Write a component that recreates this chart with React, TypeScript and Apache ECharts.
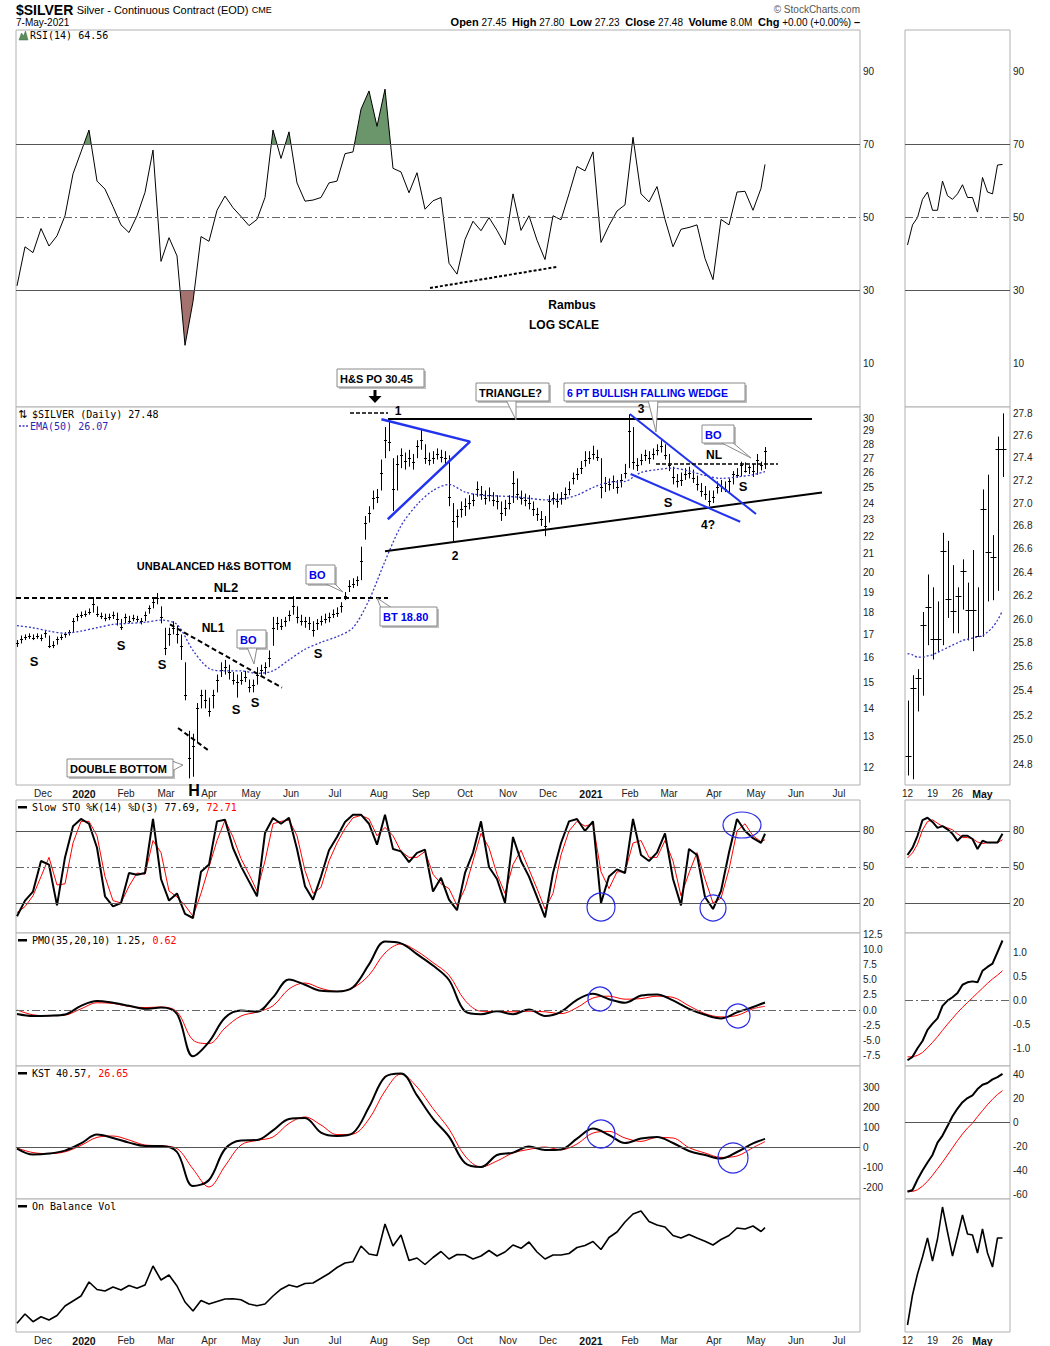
import React, { useEffect, useRef } from 'react';
import * as echarts from 'echarts';

const FONT = '"Liberation Sans", Arial, Helvetica, sans-serif';
const NARROW = '"Liberation Sans Narrow", "Liberation Sans", Arial, sans-serif';
const MONO = '"DejaVu Sans Mono", "Liberation Mono", monospace';

// ---------- tick labels ----------
const monthLabels = ['Dec', '2020', 'Feb', 'Mar', 'Apr', 'May', 'Jun', 'Jul', 'Aug', 'Sep', 'Oct', 'Nov', 'Dec', '2021', 'Feb', 'Mar', 'Apr', 'May', 'Jun', 'Jul'];
const monthPos = [6.5, 16.75, 27.25, 37.25, 48, 58.5, 68.5, 79.5, 90.5, 101, 112, 122.75, 132.75, 143.5, 153.25, 163, 174.25, 184.75, 194.75, 205.5];
const miniLabels = ['12', '19', '26', 'May'];
const miniPos = [0, 5, 10, 15];
const rsiTicks = [10, 30, 50, 70, 90];
const priceTicks = [12, 13, 14, 15, 16, 17, 18, 19, 20, 21, 22, 23, 24, 25, 26, 27, 28, 29, 30];
const miniPriceTicks = [24.8, 25.0, 25.2, 25.4, 25.6, 25.8, 26.0, 26.2, 26.4, 26.6, 26.8, 27.0, 27.2, 27.4, 27.6, 27.8];
const stoTicks = [20, 50, 80];
const pmoTicks = [-7.5, -5, -2.5, 0, 2.5, 5, 7.5, 10, 12.5];
const kstTicks = [-200, -100, 0, 100, 200, 300];
const miniPmoTicks = [-1, -0.5, 0, 0.5, 1];
const miniKstTicks = [-60, -40, -20, 0, 20, 40];

// ---------- main price (one bar every 2 sessions) ----------
const priceHigh = [16.75, 16.95, 17.0, 17.05, 17.0, 17.05, 17.0, 17.15, 16.95, 16.7,
  16.9, 17.0, 17.1, 17.2, 17.75, 17.95, 18.05, 18.1, 18.2, 18.75,
  18.3, 18.0, 17.95, 17.95, 18.05, 18.0, 17.7, 17.95, 17.85, 17.9,
  17.85, 17.75, 18.05, 18.35, 18.7, 18.95, 18.3, 17.3, 17.3, 17.6,
  17.4, 17.0, 15.8, 13.2, 13.1, 14.2, 14.7, 14.7, 14.4, 14.7,
  15.3, 15.8, 15.9, 15.7, 15.4, 15.3, 15.4, 15.45, 15.1, 15.1,
  15.6, 15.7, 15.8, 16.3, 17.8, 17.8, 17.7, 17.8, 18.1, 18.8,
  18.3, 17.9, 17.8, 17.8, 17.6, 17.7, 17.85, 17.95, 18.0, 18.15,
  18.25, 18.5, 19.0, 19.6, 19.7, 19.8, 21.4, 23.2, 23.8, 24.8,
  24.9, 26.9, 29.3, 29.9, 27.0, 27.2, 27.7, 27.4, 27.6, 27.3,
  28.3, 29.1, 28.0, 27.4, 27.5, 27.7, 27.6, 27.5, 27.2, 24.0,
  23.6, 24.1, 24.3, 24.5, 24.6, 25.4, 25.1, 24.8, 25.0, 24.7,
  24.5, 24.1, 24.2, 24.5, 26.1, 25.6, 24.8, 24.6, 24.5, 24.1,
  23.7, 23.5, 23.2, 24.5, 24.7, 24.6, 24.7, 25.0, 25.4, 26.0,
  26.3, 26.8, 27.5, 27.5, 27.9, 27.6, 27.0, 25.7, 25.6, 25.8,
  25.5, 25.9, 26.6, 30.3, 29.3, 27.0, 27.3, 27.6, 27.5, 27.7,
  28.0, 28.3, 28.0, 27.3, 26.4, 25.9, 26.0, 26.3, 26.4, 26.2,
  25.8, 25.3, 25.1, 24.8, 24.8, 25.4, 25.5, 25.4, 25.6, 26.1,
  26.3, 26.75, 26.7, 26.5, 26.6, 27.3, 26.75, 27.8];
const priceLow = [16.45, 16.6, 16.75, 16.8, 16.75, 16.8, 16.7, 16.85, 16.4, 16.4,
  16.55, 16.75, 16.85, 16.95, 17.1, 17.6, 17.75, 17.8, 17.9, 18.0,
  17.8, 17.7, 17.6, 17.65, 17.7, 17.4, 17.2, 17.5, 17.5, 17.6,
  17.55, 17.45, 17.6, 17.95, 18.2, 18.4, 17.5, 16.1, 16.5, 17.0,
  16.6, 15.9, 14.3, 11.65, 11.7, 12.8, 14.0, 14.0, 13.7, 14.0,
  14.6, 15.2, 15.3, 15.1, 14.9, 14.4, 14.9, 15.0, 14.6, 14.6,
  14.9, 15.2, 15.3, 15.6, 16.5, 17.2, 17.2, 17.35, 17.6, 17.9,
  17.5, 17.4, 17.3, 17.2, 16.9, 17.2, 17.4, 17.5, 17.55, 17.75,
  17.8, 18.0, 18.6, 19.0, 19.2, 19.3, 19.6, 21.8, 22.8, 23.6,
  24.0, 24.8, 27.0, 27.5, 23.5, 24.8, 26.3, 26.2, 26.4, 26.2,
  27.0, 27.6, 26.6, 26.5, 26.6, 26.9, 26.7, 26.5, 23.8, 21.7,
  22.5, 23.1, 23.2, 23.6, 23.8, 24.4, 24.2, 23.9, 24.1, 23.8,
  23.6, 22.9, 23.2, 23.6, 24.0, 24.2, 23.9, 23.8, 23.6, 23.2,
  22.9, 22.6, 22.0, 22.8, 23.9, 23.7, 23.9, 24.2, 24.5, 25.2,
  25.5, 25.9, 26.4, 26.6, 26.9, 26.8, 24.3, 24.7, 24.8, 24.9,
  24.6, 25.0, 25.6, 26.3, 26.2, 26.1, 26.5, 26.8, 26.6, 26.9,
  27.2, 27.4, 26.9, 26.1, 25.2, 25.0, 25.1, 25.5, 25.6, 25.3,
  24.8, 24.4, 24.2, 23.8, 24.0, 24.6, 24.7, 24.7, 24.7, 25.2,
  25.65, 25.75, 26.0, 25.9, 25.7, 25.85, 26.15, 26.24];
const priceClose = [16.6, 16.8, 16.9, 16.95, 16.85, 16.95, 16.85, 17.05, 16.5, 16.55,
  16.8, 16.9, 17.0, 17.1, 17.6, 17.85, 17.9, 17.95, 18.05, 18.4,
  17.95, 17.85, 17.75, 17.8, 17.9, 17.7, 17.35, 17.8, 17.6, 17.75,
  17.7, 17.6, 17.9, 18.2, 18.5, 18.7, 17.8, 16.4, 17.0, 17.3,
  17.0, 16.5, 14.5, 12.3, 12.7, 14.0, 14.5, 14.3, 13.9, 14.5,
  15.1, 15.5, 15.6, 15.4, 15.1, 15.0, 15.1, 15.2, 14.8, 14.9,
  15.3, 15.5, 15.6, 16.0, 17.3, 17.5, 17.4, 17.6, 17.9, 18.3,
  17.8, 17.6, 17.6, 17.5, 17.2, 17.5, 17.6, 17.7, 17.8, 17.95,
  18.0, 18.3, 18.8, 19.3, 19.4, 19.6, 20.6, 22.8, 23.4, 24.3,
  24.4, 26.0, 28.3, 28.2, 24.9, 26.6, 27.2, 26.8, 27.0, 26.7,
  27.9, 28.3, 27.0, 26.9, 27.0, 27.3, 27.1, 27.0, 24.4, 22.9,
  23.2, 23.6, 23.8, 24.0, 24.2, 24.9, 24.6, 24.3, 24.5, 24.2,
  24.1, 23.4, 23.7, 24.0, 25.3, 24.6, 24.3, 24.2, 24.0, 23.6,
  23.3, 23.0, 22.6, 24.1, 24.3, 24.1, 24.3, 24.6, 24.9, 25.6,
  25.9, 26.3, 26.9, 27.0, 27.3, 27.1, 25.0, 25.3, 25.2, 25.4,
  25.0, 25.5, 26.0, 29.0, 26.7, 26.5, 26.9, 27.2, 27.0, 27.3,
  27.6, 27.9, 27.2, 26.5, 25.7, 25.4, 25.5, 25.9, 26.0, 25.6,
  25.2, 24.8, 24.6, 24.1, 24.4, 25.0, 25.1, 24.9, 25.4, 25.9,
  25.85, 26.5, 26.1, 26.4, 26.08, 26.9, 26.55, 27.48];
// EMA(50), one value every 4 bars
const ema50 = [17.4, 17.3, 17.15, 17.05, 17.15, 17.3, 17.45, 17.5, 17.55, 17.65,
  17.45, 16.3, 15.55, 15.45, 15.45, 15.35, 15.45, 15.9, 16.35, 16.65,
  16.9, 17.3, 18.6, 20.6, 22.6, 23.9, 24.8, 25.2, 24.7, 24.5,
  24.45, 24.4, 24.3, 24.2, 24.25, 24.5, 25.0, 25.35, 25.4, 26.0,
  26.2, 26.3, 26.1, 25.8, 25.6, 25.7, 25.85, 26.07];
// RSI(14), one value every 2 bars
const rsi14 = [31.3, 42, 40.4, 47, 42.2, 45, 50.5, 62, 68, 74,
  60, 57.8, 53, 48, 45.9, 50.5, 56.9, 68.5, 38, 44.5,
  39.5, 15, 27, 44.8, 43.5, 52, 55.9, 52.7, 50.3, 47.8,
  49.5, 55.5, 74, 66.2, 73.5, 59.5, 54.5, 54.8, 55.5, 59.5,
  60, 67.5, 68, 79.7, 84.7, 75, 85.2, 63.5, 62.5, 56.8,
  62.3, 52.3, 54.6, 55.5, 37.5, 34.5, 44, 49, 46.4, 50,
  46.5, 42.5, 56.5, 46.5, 50.5, 43.8, 38.5, 50.5, 49.4, 56.5,
  64, 62.8, 68, 43.2, 47.8, 51.8, 53.5, 72, 56.5, 54.3,
  58.5, 49.5, 42, 46.8, 47.3, 48, 38.8, 33, 49.5, 48,
  57, 57.2, 52, 58, 64.56];
const stoK = [9, 22, 29.5, 55, 52, 18, 58, 84, 90, 86,
  66, 25.6, 17.2, 20, 45, 43.6, 45, 90, 40, 22,
  28, 11, 7.5, 46, 52, 88, 89.4, 65.8, 50.5, 38,
  25.6, 78.3, 90.8, 86, 91, 65, 34, 22.8, 42, 64,
  75, 87.5, 93.6, 93.6, 86, 68.6, 93.6, 65, 63, 54,
  61.7, 64.4, 29.5, 41, 22.8, 14, 45, 62, 88, 50,
  40, 20, 75, 55, 42, 25, 8, 45, 70, 88,
  90, 80, 88, 20, 42, 48, 45, 90, 60, 55,
  62, 78, 40, 18, 65, 60, 25, 15, 30, 62,
  90, 80, 74, 70, 77.69];
const stoD = [12, 17, 26, 42, 58, 35, 36, 70, 88, 88,
  76, 42, 22, 20, 34, 45, 44, 72, 62, 30,
  25, 18, 9, 28, 50, 72, 89, 75, 57, 44,
  30, 55, 86, 88, 89, 76, 47, 28, 33, 55,
  70, 82, 91, 93, 90, 76, 83, 76, 63, 58,
  58, 63, 44, 36, 32, 18, 32, 55, 78, 66,
  44, 28, 52, 64, 48, 32, 15, 28, 60, 80,
  88, 84, 86, 46, 32, 46, 46, 70, 72, 58,
  58, 72, 55, 26, 45, 62, 40, 20, 24, 48,
  80, 86, 76, 71, 72.71];
// PMO / KST, one value every 4 bars
const pmo = [-0.67, -1.0, -0.94, -0.75, 0.7, 1.5, 1.2, 0.7, 0.2, 0.4,
  -0.67, -7.7, -5.3, -1.3, -0.1, -0.28, 2.1, 5.1, 4.2, 3.2,
  3.1, 3.8, 7.6, 11.4, 11.1, 9.3, 7.4, 5.0, -0.2, -0.7,
  -0.2, -0.7, 0.1, -1.0, -0.3, 1.7, 2.7, 1.8, 1.2, 2.4,
  2.6, 1.6, 0.2, -0.8, -1.4, -0.4, 0.5, 1.25];
const pmoSignal = [0.0, -0.8, -0.95, -0.85, 0.2, 1.2, 1.1, 0.6, 0.4, 0.5,
  -0.3, -5.0, -5.6, -3.0, -1.0, -0.35, 0.7, 3.5, 4.5, 3.6,
  3.1, 3.7, 5.8, 9.5, 11.0, 9.8, 7.9, 5.8, 1.6, -0.2,
  -0.25, -0.3, -0.2, -0.3, -0.6, 0.4, 2.0, 2.3, 1.8, 1.9,
  2.3, 2.1, 0.7, -0.6, -1.15, -0.9, 0.2, 0.62];
const kst = [-8, -38, -33, -18, 18, 62, 45, 22, 5, 5,
  -25, -195, -165, -10, 33, 35, 83, 140, 145, 72,
  55, 70, 200, 350, 368, 258, 142, 52, -80, -100,
  -40, -28, 2, -15, -12, 42, 92, 60, 20, 42,
  50, 20, -20, -40, -58, -25, 18, 40.57];
const kstSignal = [-5, -28, -33, -24, 8, 48, 55, 35, 10, 6,
  -8, -110, -200, -95, 10, 33, 50, 118, 150, 110,
  62, 65, 140, 280, 365, 300, 192, 90, -45, -100,
  -70, -30, -12, 0, -14, 15, 70, 78, 45, 28,
  48, 45, -3, -30, -52, -45, -3, 26.65];
// On Balance Volume (relative units), one value every 2 bars
const obv = [8.7, 18, 10.3, 15.3, 12, 16.5, 26, 31, 36, 50,
  42.5, 41, 45, 42, 46.5, 43.8, 47, 66, 52, 57,
  46, 30, 21, 31.5, 28, 30.5, 33, 33.2, 32.3, 28,
  26.3, 28, 36, 42.8, 47, 45, 48.5, 49, 53.7, 58.5,
  64.5, 69, 70.3, 86, 78, 76.5, 108, 86, 97, 71.5,
  74, 67.5, 74.5, 80.5, 73, 77.5, 77.2, 73, 76, 81.5,
  76, 80, 87, 83.7, 90, 80, 73, 77, 77, 78.5,
  84.5, 86.5, 90.5, 82.5, 94.5, 100, 110, 118, 121, 110.5,
  107, 105, 96.5, 94, 97.5, 94, 90.8, 87, 92.5, 96.5,
  104, 103, 106, 100.5, 104.3];

// ---------- mini panel: 12-Apr-2021 .. 7-May-2021 daily ----------
const miniHigh = [25.32, 25.53, 25.58, 26.06, 26.38, 26.27, 26.15, 26.74, 26.67, 26.46, 26.27, 26.51, 26.31, 26.59, 26.27, 27.12, 27.25, 26.72, 27.59, 27.8];
const miniLow = [24.71, 24.68, 25.23, 25.36, 25.78, 25.66, 25.72, 25.78, 26.01, 25.88, 25.88, 26.08, 25.82, 25.73, 25.85, 25.85, 26.15, 26.16, 26.24, 27.23];
const miniClose = [24.87, 25.42, 25.51, 25.95, 26.10, 25.83, 25.83, 26.58, 26.17, 26.07, 26.2, 26.41, 26.08, 26.08, 25.86, 26.95, 26.57, 26.53, 27.48, 27.48];
const miniEma = [25.71, 25.70, 25.68, 25.68, 25.69, 25.70, 25.72, 25.74, 25.76, 25.78, 25.80, 25.82, 25.83, 25.84, 25.85, 25.86, 25.89, 25.93, 25.99, 26.07];
const miniRsi = [42.5, 48, 50, 55, 57, 52, 52, 60, 56, 55, 56.5, 59, 55.5, 55.5, 51.5, 61, 57, 56.5, 64.4, 64.56];
const miniK = [60, 66, 76, 89, 91, 87.5, 82.6, 84, 81.4, 77.6, 71.8, 76, 76, 73.3, 65, 71.8, 70.3, 70.3, 70.3, 77.69];
const miniD = [57.5, 61.7, 69, 80.8, 87.8, 89.3, 86.4, 84, 82.6, 81, 77.6, 74.5, 74.5, 73.6, 70.8, 69.5, 70.3, 70.3, 70.3, 72.71];
const miniPmo = [-1.24, -1.17, -0.99, -0.84, -0.61, -0.48, -0.37, -0.11, 0.0, 0.07, 0.16, 0.33, 0.38, 0.40, 0.38, 0.62, 0.70, 0.77, 1.01, 1.25];
const miniPmoSig = [-1.17, -1.17, -1.14, -1.08, -0.98, -0.87, -0.75, -0.62, -0.49, -0.37, -0.25, -0.14, -0.04, 0.06, 0.16, 0.26, 0.36, 0.45, 0.53, 0.62];
const miniKst = [-57.7, -56.2, -47.4, -40, -33.3, -27, -16.7, -10.8, -2.9, 5.3, 11.7, 17, 20.5, 22.8, 28, 31.6, 33, 36, 38, 40.57];
const miniKstSig = [-57, -57.5, -56, -53, -49, -44, -38.5, -33, -27, -21, -15, -9.5, -4.5, -0.5, 5, 10, 15, 19.5, 23.5, 26.65];
const miniObv = [7, 37, 58, 75, 94, 71, 93, 125, 100, 76, 96, 117, 98, 97, 79, 103, 79, 65, 94, 94];

// ---------- annotation drawings (data coordinates: bar slot, price) ----------
const trendLines = [
  { pts: [[-4.25, 18.7], [92.75, 18.7]], color: '#000', width: 2, dash: [5, 3] },
  { pts: [[38.25, 17.45], [66.25, 14.78]], color: '#000', width: 2, dash: [5, 3] },
  { pts: [[40.25, 13.3], [48.25, 12.5]], color: '#000', width: 2, dash: [5, 3] },
  { pts: [[83.25, 30.4], [92.75, 30.4]], color: '#000', width: 1.5, dash: [4, 2] },
  { pts: [[92.75, 29.92], [198.75, 29.92]], color: '#000', width: 2, dash: 'solid' },
  { pts: [[92, 21.15], [201.25, 24.67]], color: '#000', width: 2, dash: 'solid' },
  { pts: [[91.1, 29.9], [113.25, 28.2], [92.7, 23.0]], color: '#2233ee', width: 2.5, dash: 'solid' },
  { pts: [[153.2, 30.32], [184.75, 23.32]], color: '#2233ee', width: 2, dash: 'solid' },
  { pts: [[153.4, 25.9], [180.8, 22.85]], color: '#2233ee', width: 2, dash: 'solid' },
  { pts: [[159.75, 26.59], [190.25, 26.59]], color: '#000', width: 1.5, dash: [4, 2] },
];
const rsiTrend = [[103.25, 30.7], [135, 36.5]];

const LAST = priceClose.length - 1;
const midIdx = (k: number) => Math.min(2 * k, LAST);
const coarseIdx = (k: number) => Math.min(4 * k, LAST);
const ln = Math.log;

const TOPS = [30, 407, 800, 933, 1066, 1199];
const HEIGHTS = [377, 378, 133, 133, 133, 133];

function nearestIndex(arr: number[], v: number) {
  let best = 0;
  for (let i = 1; i < arr.length; i++) if (Math.abs(arr[i] - v) < Math.abs(arr[best] - v)) best = i;
  return best;
}

function barRender(tick: number) {
  return (params: any, api: any) => {
    const x = api.value(0);
    const pH = api.coord([x, api.value(1)]);
    const pL = api.coord([x, api.value(2)]);
    const pC = api.coord([x, api.value(3)]);
    const px = Math.round(pH[0]) + 0.5;
    const cy = Math.round(pC[1]) + 0.5;
    return {
      type: 'group',
      children: [
        { type: 'line', shape: { x1: px, y1: pH[1], x2: px, y2: pL[1] }, style: { stroke: '#000', lineWidth: 1 } },
        { type: 'line', shape: { x1: px - tick, y1: cy, x2: px + tick, y2: cy }, style: { stroke: '#000', lineWidth: 1 } },
      ],
    };
  };
}

// fill between an RSI segment and a level (above or below it)
function fillRender(level: number, above: boolean, color: string) {
  return (params: any, api: any) => {
    const x0 = api.value(0), v0 = api.value(1), x1 = api.value(2), v1 = api.value(3);
    const f0 = above ? v0 - level : level - v0;
    const f1 = above ? v1 - level : level - v1;
    if (f0 <= 0 && f1 <= 0) return null;
    let pts: number[][];
    if (f0 > 0 && f1 > 0) pts = [[x0, level], [x0, v0], [x1, v1], [x1, level]];
    else if (f0 > 0) { const xc = x0 + (f0 / (f0 - f1)) * (x1 - x0); pts = [[x0, level], [x0, v0], [xc, level]]; }
    else { const xc = x0 + (f0 / (f0 - f1)) * (x1 - x0); pts = [[xc, level], [x1, v1], [x1, level]]; }
    return { type: 'polygon', shape: { points: pts.map((p) => api.coord(p)) }, style: { fill: color } };
  };
}

function hLines(items: { v: number; dash?: boolean }[]) {
  return {
    silent: true,
    symbol: ['none', 'none'],
    label: { show: false },
    emphasis: { disabled: true },
    data: items.map((o) => ({
      yAxis: o.v,
      lineStyle: { color: o.dash ? '#666' : '#555', width: 1, type: o.dash ? [8, 3, 2, 3] : 'solid' },
    })),
  };
}

function buildOption() {
  const grids: any[] = [];
  for (let p = 0; p < 6; p++) grids.push({ left: 16, top: TOPS[p], width: 844, height: HEIGHTS[p], show: true, borderColor: '#b0b0b0', borderWidth: 1, backgroundColor: '#fff', containLabel: false, outerBoundsMode: 'none' });
  for (let p = 0; p < 6; p++) grids.push({ left: 905, top: TOPS[p], width: 105, height: HEIGHTS[p], show: true, borderColor: '#b0b0b0', borderWidth: 1, backgroundColor: '#fff', containLabel: false, outerBoundsMode: 'none' });

  const hidden = { axisLine: { show: false }, axisTick: { show: false }, splitLine: { show: false } };
  const labelBase = { margin: 3, fontSize: 10, color: '#222', fontFamily: FONT };

  const xAxes: any[] = [];
  for (let p = 0; p < 6; p++) {
    const show = p === 1 || p === 5;
    xAxes.push({
      type: 'value', gridIndex: p, min: -0.25, max: 210.75, ...hidden,
      axisLabel: show ? {
        ...labelBase, show: true, customValues: monthPos,
        formatter: (v: number) => { const t = monthLabels[nearestIndex(monthPos, v)]; return /^\d{4}$/.test(t) ? '{b|' + t + '}' : t; },
        rich: { b: { fontWeight: 'bold', fontSize: 10.5, fontFamily: FONT, color: '#111' } },
      } : { show: false },
    });
  }
  for (let p = 0; p < 6; p++) {
    const show = p === 1 || p === 5;
    xAxes.push({
      type: 'value', gridIndex: 6 + p, min: -0.5, max: 20.5, ...hidden,
      axisLabel: show ? {
        ...labelBase, show: true, customValues: miniPos,
        formatter: (v: number) => { const t = miniLabels[nearestIndex(miniPos, v)]; return t === 'May' ? '{b|May}' : t; },
        rich: { b: { fontWeight: 'bold', fontSize: 10.5, fontFamily: FONT, color: '#111' } },
      } : { show: false },
    });
  }

  const yAx = (gi: number, min: number, max: number, ticks: number[] | null, fmt?: (v: number) => string) => ({
    type: 'value', gridIndex: gi, position: 'right', min, max, ...hidden,
    axisLabel: ticks ? { ...labelBase, show: true, customValues: ticks, formatter: fmt || ((v: number) => String(v)) } : { show: false },
  });
  const fx1 = (v: number) => v.toFixed(1);
  const yAxes = [
    yAx(0, -1.9, 101.4, rsiTicks),
    yAx(1, ln(11.45), ln(30.88), priceTicks.map(ln), (v) => String(Math.round(Math.exp(v)))),
    yAx(2, -5, 105.8, stoTicks),
    yAx(3, -9.33, 12.83, pmoTicks, fx1),
    yAx(4, -260, 405, kstTicks),
    yAx(5, 0, 133, null),
    yAx(6, -1.9, 101.4, rsiTicks),
    yAx(7, ln(24.634), ln(27.857), miniPriceTicks.map(ln), (v) => Math.exp(v).toFixed(1)),
    yAx(8, -5, 105.8, stoTicks),
    yAx(9, -1.36, 1.406, miniPmoTicks, fx1),
    yAx(10, -63.7, 47.2, miniKstTicks),
    yAx(11, 0, 133, null),
  ];

  const line = (xi: number, data: any[], color: string, width: number, extra: any = {}) => ({
    type: 'line', xAxisIndex: xi, yAxisIndex: xi, data, symbol: 'none', silent: true,
    lineStyle: { color, width }, ...extra,
  });

  const rsiMain = rsi14.map((v, k) => [midIdx(k), v]);
  const rsiMini = miniRsi.map((v, i) => [i, v]);
  const series: any[] = [];

  // RSI overbought / oversold fills
  const rsiFill = (xi: number, pts: number[][]) => {
    const segs = pts.slice(0, -1).map((p, j) => [p[0], p[1], pts[j + 1][0], pts[j + 1][1]]);
    return [
      { type: 'custom', xAxisIndex: xi, yAxisIndex: xi, silent: true, renderItem: fillRender(70, true, '#6b956a'), data: segs, encode: { x: [0, 2], y: [1, 3] }, z: 2 },
      { type: 'custom', xAxisIndex: xi, yAxisIndex: xi, silent: true, renderItem: fillRender(30, false, '#a5736f'), data: segs, encode: { x: [0, 2], y: [1, 3] }, z: 2 },
    ];
  };
  series.push(...rsiFill(0, rsiMain));
  series.push(line(0, rsiMain, '#000', 1, { markLine: hLines([{ v: 70 }, { v: 30 }, { v: 50, dash: true }]), z: 4 }));
  series.push(line(0, rsiTrend, '#000', 2, { lineStyle: { color: '#000', width: 2, type: [3, 2] }, z: 5 }));
  series.push(...rsiFill(6, rsiMini));
  series.push(line(6, rsiMini, '#000', 1, { markLine: hLines([{ v: 70 }, { v: 30 }, { v: 50, dash: true }]), z: 4 }));

  // price bars
  series.push({
    type: 'custom', xAxisIndex: 1, yAxisIndex: 1, renderItem: barRender(1.5), silent: true,
    data: priceClose.map((c, i) => [i, ln(priceHigh[i]), ln(priceLow[i]), ln(c)]),
    encode: { x: 0, y: [1, 2, 3] }, z: 3,
  });
  series.push(line(1, ema50.map((v, k) => [coarseIdx(k), ln(v)]), '#3838c8', 1.3, { smooth: 0.3, lineStyle: { color: '#3838c8', width: 1.3, type: [2, 2] }, z: 4 }));
  trendLines.forEach((t) => {
    series.push(line(1, t.pts.map(([i, p]) => [i, ln(p)]), t.color, t.width, { clip: false, lineStyle: { color: t.color, width: t.width, type: t.dash }, z: 6 }));
  });
  series.push({
    type: 'custom', xAxisIndex: 7, yAxisIndex: 7, renderItem: barRender(3), silent: true,
    data: miniClose.map((c, i) => [i, ln(miniHigh[i]), ln(miniLow[i]), ln(c)]),
    encode: { x: 0, y: [1, 2, 3] }, z: 3,
  });
  series.push(line(7, miniEma.map((v, i) => [i, ln(v)]), '#3838c8', 1.3, { smooth: 0.3, lineStyle: { color: '#3838c8', width: 1.3, type: [2, 2] }, z: 4 }));

  // Slow stochastics
  series.push(line(2, stoD.map((v, k) => [midIdx(k), v]), '#ff0000', 1, { markLine: hLines([{ v: 80 }, { v: 20 }, { v: 50, dash: true }]) }));
  series.push(line(2, stoK.map((v, k) => [midIdx(k), v]), '#000', 2));
  series.push(line(8, miniD.map((v, i) => [i, v]), '#ff0000', 1, { markLine: hLines([{ v: 80 }, { v: 20 }, { v: 50, dash: true }]) }));
  series.push(line(8, miniK.map((v, i) => [i, v]), '#000', 2));

  // PMO
  series.push(line(3, pmoSignal.map((v, k) => [coarseIdx(k), v]), '#ff0000', 1, { smooth: 0.35, markLine: hLines([{ v: 0, dash: true }]) }));
  series.push(line(3, pmo.map((v, k) => [coarseIdx(k), v]), '#000', 2, { smooth: 0.35 }));
  series.push(line(9, miniPmoSig.map((v, i) => [i, v]), '#ff0000', 1, { markLine: hLines([{ v: 0, dash: true }]) }));
  series.push(line(9, miniPmo.map((v, i) => [i, v]), '#000', 2));

  // KST
  series.push(line(4, kstSignal.map((v, k) => [coarseIdx(k), v]), '#ff0000', 1, { smooth: 0.35, markLine: hLines([{ v: 0 }]) }));
  series.push(line(4, kst.map((v, k) => [coarseIdx(k), v]), '#000', 2, { smooth: 0.35 }));
  series.push(line(10, miniKstSig.map((v, i) => [i, v]), '#ff0000', 1, { markLine: hLines([{ v: 0 }]) }));
  series.push(line(10, miniKst.map((v, i) => [i, v]), '#000', 2));

  // OBV
  series.push(line(5, obv.map((v, k) => [midIdx(k), v]), '#000', 1.6));
  series.push(line(11, miniObv.map((v, i) => [i, v]), '#000', 1.6));

  return {
    animation: false,
    backgroundColor: '#fff',
    grid: grids,
    xAxis: xAxes,
    yAxis: yAxes,
    series,
    graphic: { elements: buildGraphics() },
  };
}

function txt(x: number, y: number, text: string, font: string, fill = '#000', align = 'left') {
  return { type: 'text', x, y, z: 100, silent: true, style: { text, font, fill, align, textAlign: align, verticalAlign: 'middle', textVerticalAlign: 'middle' } };
}

function callout(x1: number, y1: number, x2: number, y2: number, text: string, color: string, tail: number[][] | null, size = 11) {
  const els: any[] = [
    { type: 'rect', z: 110, silent: true, shape: { x: x1 + 2, y: y1 + 2, width: x2 - x1, height: y2 - y1 }, style: { fill: '#bdbdbd' } },
  ];
  if (tail) els.push({ type: 'polygon', z: 111, silent: true, shape: { points: tail }, style: { fill: '#fff', stroke: '#8a8a8a', lineWidth: 1 } });
  els.push({ type: 'rect', z: 112, silent: true, shape: { x: x1, y: y1, width: x2 - x1, height: y2 - y1 }, style: { fill: '#fff', stroke: '#8a8a8a', lineWidth: 1 } });
  els.push({ type: 'text', z: 113, silent: true, x: x1 + 3, y: (y1 + y2) / 2 + 0.5, style: { text, font: 'bold ' + size + 'px ' + FONT, fill: color, align: 'left', textAlign: 'left', verticalAlign: 'middle', textVerticalAlign: 'middle' } });
  return els;
}

function buildGraphics() {
  const g: any[] = [];
  const blue = '#0000ee';
  // header
  g.push({
    type: 'text', x: 16, y: 10, z: 100, silent: true,
    style: {
      text: '{t|$SILVER} {s|Silver - Continuous Contract (EOD)} {c|CME}',
      rich: { t: { fontSize: 14, fontWeight: 'bold', fontFamily: FONT, fill: '#000' }, s: { fontSize: 11, fontFamily: FONT, fill: '#000' }, c: { fontSize: 9, fontFamily: FONT, fill: '#000' } },
      verticalAlign: 'middle', textVerticalAlign: 'middle',
    },
  });
  g.push(txt(16, 22, '7-May-2021', '10px ' + FONT));
  g.push(txt(860, 9, '© StockCharts.com', '10px ' + FONT, '#555', 'right'));
  g.push({
    type: 'text', x: 860, y: 22, z: 100, silent: true,
    style: {
      text: '{b|Open} 27.45  {b|High} 27.80  {b|Low} 27.23  {b|Close} 27.48  {b|Volume} 8.0M  {b|Chg} +0.00 (+0.00%) {b|–}',
      font: '10px ' + FONT, fill: '#000',
      rich: { b: { fontSize: 11, fontWeight: 'bold', fontFamily: FONT, fill: '#000' } },
      align: 'right', textAlign: 'right', verticalAlign: 'middle', textVerticalAlign: 'middle',
    },
  });

  // panel legends
  g.push({ type: 'polygon', z: 100, silent: true, shape: { points: [[19, 40], [21.5, 33], [23.5, 36], [25.5, 31], [28, 40]] }, style: { fill: '#5e8c5a', stroke: '#3d6b3a', lineWidth: 0.5 } });
  g.push(txt(30, 35, 'RSI(14) 64.56', '10px ' + MONO));
  g.push(txt(18, 414, '⇅', '11px "DejaVu Sans", sans-serif'));
  g.push(txt(32, 414, '$SILVER (Daily) 27.48', '10px ' + MONO));
  g.push({ type: 'line', z: 100, silent: true, shape: { x1: 19, y1: 426, x2: 29, y2: 426 }, style: { stroke: '#3838c8', lineWidth: 1.5, lineDash: [2, 1.5] } });
  g.push(txt(30, 426, 'EMA(50) 26.07', '10px ' + MONO, '#2a2ab0'));
  const legendBar = (y: number) => ({ type: 'rect', z: 100, silent: true, shape: { x: 18, y: y - 1, width: 9, height: 2.5 }, style: { fill: '#000' } });
  g.push(legendBar(807));
  g.push({ type: 'text', x: 32, y: 807, z: 100, silent: true, style: { text: 'Slow STO %K(14) %D(3) 77.69, {r|72.71}', font: '10px ' + MONO, fill: '#000', rich: { r: { fontSize: 10, fontFamily: MONO, fill: '#ff0000' } }, verticalAlign: 'middle', textVerticalAlign: 'middle' } });
  g.push(legendBar(940));
  g.push({ type: 'text', x: 32, y: 940, z: 100, silent: true, style: { text: 'PMO(35,20,10) 1.25, {r|0.62}', font: '10px ' + MONO, fill: '#000', rich: { r: { fontSize: 10, fontFamily: MONO, fill: '#ff0000' } }, verticalAlign: 'middle', textVerticalAlign: 'middle' } });
  g.push(legendBar(1073));
  g.push({ type: 'text', x: 32, y: 1073, z: 100, silent: true, style: { text: 'KST 40.57{r|, 26.65}', font: '10px ' + MONO, fill: '#000', rich: { r: { fontSize: 10, fontFamily: MONO, fill: '#ff0000' } }, verticalAlign: 'middle', textVerticalAlign: 'middle' } });
  g.push(legendBar(1206));
  g.push(txt(32, 1206, 'On Balance Vol', '10px ' + MONO));

  // RSI panel notes
  g.push(txt(572, 305, 'Rambus', 'bold 12px ' + NARROW, '#000', 'center'));
  g.push(txt(564, 325, 'LOG SCALE', 'bold 12px ' + NARROW, '#000', 'center'));

  // price annotations
  const S = 'bold 13px ' + FONT;
  [[34, 661], [121, 645], [162, 664], [236, 709], [255, 702], [318, 653], [668, 502], [743, 486]].forEach(([x, y]) => g.push(txt(x, y, 'S', S, '#000', 'center')));
  g.push(txt(194, 790, 'H', 'bold 16px ' + FONT, '#000', 'center'));
  g.push(txt(226, 587, 'NL2', 'bold 13px ' + FONT, '#000', 'center'));
  g.push(txt(213, 628, 'NL1', 'bold 12px ' + FONT, '#000', 'center'));
  g.push(txt(214, 566, 'UNBALANCED H&S BOTTOM', 'bold 11px ' + FONT, '#000', 'center'));
  g.push(txt(714, 455, 'NL', 'bold 12px ' + FONT, '#000', 'center'));
  g.push(txt(398, 411, '1', 'bold 12px ' + FONT, '#000', 'center'));
  g.push(txt(455, 556, '2', 'bold 12px ' + FONT, '#000', 'center'));
  g.push(txt(641, 409, '3', 'bold 12px ' + FONT, '#000', 'center'));
  g.push(txt(708, 525, '4?', 'bold 12px ' + FONT, '#000', 'center'));

  // callouts
  g.push(...callout(337, 369, 424, 387, 'H&S PO 30.45', '#000', null));
  g.push({ type: 'polygon', z: 114, silent: true, shape: { points: [[373.5, 390], [376.5, 390], [376.5, 396], [381.5, 396], [375, 403], [368.5, 396], [373.5, 396]] }, style: { fill: '#000' } });
  g.push(...callout(476, 383, 549, 401, 'TRIANGLE?', '#000', [[506, 400], [516, 400], [516, 420]]));
  g.push(...callout(564, 383, 745, 401, '6 PT BULLISH FALLING WEDGE', blue, [[648, 400], [658, 400], [656, 432]], 10.5));
  g.push(...callout(702, 425, 734, 443, 'BO', blue, [[720, 442], [732, 442], [751, 458]]));
  g.push(...callout(306, 565, 335, 584, 'BO', blue, [[324, 583], [334, 583], [343, 592]]));
  g.push(...callout(237, 630, 266, 648, 'BO', blue, [[247, 647], [257, 647], [254, 664]]));
  g.push(...callout(380, 607, 437, 626, 'BT 18.80', blue, [[381, 608], [392, 608], [377, 598]]));
  g.push(...callout(67, 759, 173, 777, 'DOUBLE BOTTOM', '#000', [[172, 761], [172, 771], [183, 765]]));

  // blue circles on indicators
  const circ = { fill: 'none', stroke: '#2a2ae6', lineWidth: 1.2 };
  g.push({ type: 'circle', z: 100, silent: true, shape: { cx: 601, cy: 907, r: 14 }, style: circ });
  g.push({ type: 'circle', z: 100, silent: true, shape: { cx: 713, cy: 908, r: 13 }, style: circ });
  g.push({ type: 'ellipse', z: 100, silent: true, shape: { cx: 742, cy: 825, rx: 19, ry: 13 }, style: circ });
  g.push({ type: 'circle', z: 100, silent: true, shape: { cx: 600, cy: 999, r: 12 }, style: circ });
  g.push({ type: 'circle', z: 100, silent: true, shape: { cx: 738, cy: 1016, r: 12 }, style: circ });
  g.push({ type: 'circle', z: 100, silent: true, shape: { cx: 601, cy: 1134, r: 14 }, style: circ });
  g.push({ type: 'circle', z: 100, silent: true, shape: { cx: 733, cy: 1158, r: 15 }, style: circ });
  return g;
}

export default function App() {
  const ref = useRef<HTMLDivElement>(null);
  useEffect(() => {
    if (!ref.current) return;
    const chart = echarts.init(ref.current, null, { renderer: 'svg' });
    chart.setOption(buildOption() as any);
    return () => chart.dispose();
  }, []);
  return <div ref={ref} style={{ position: 'absolute', left: 0, top: 0, width: 1050, height: 1346, background: '#fff' }} />;
}
